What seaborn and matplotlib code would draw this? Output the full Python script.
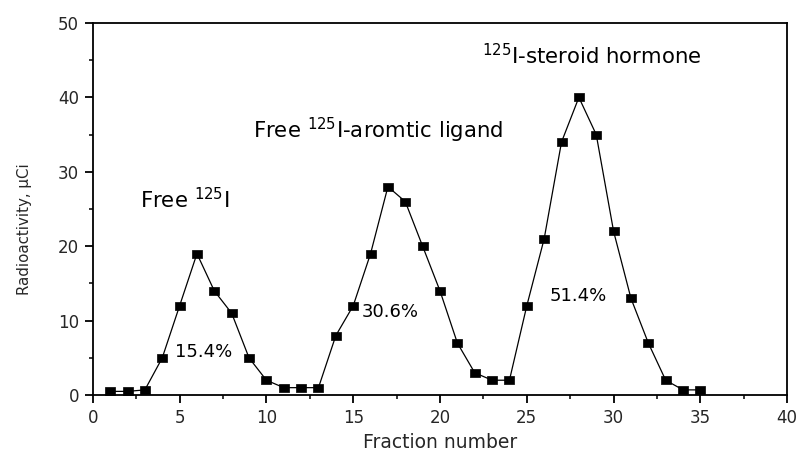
import matplotlib
matplotlib.use("Agg")
import matplotlib.pyplot as plt
import seaborn as sns
import pandas as pd
from matplotlib.ticker import MultipleLocator

fractions = list(range(1, 36))
radioactivity = [0.5, 0.5, 0.7, 5, 12, 19, 14, 11, 5, 2,
                 1, 1, 1, 8, 12, 19, 28, 26, 20, 14,
                 7, 3, 2, 2, 12, 21, 34, 40, 35, 22,
                 13, 7, 2, 0.7, 0.7]

peak_labels = ["Free $^{125}$I", "Free $^{125}$I-aromtic ligand", "$^{125}$I-steroid hormone"]
peak_label_pos = [(2.71, 25.1, "left"), (9.25, 34.5, "left"), (35.1, 44.5, "right")]
percent_labels = ["15.4%", "30.6%", "51.4%"]
percent_pos = [(4.73, 5.1), (15.5, 10.5), (26.3, 12.7)]

df = pd.DataFrame({"Fraction": fractions, "Radioactivity": radioactivity})

sns.set_theme(style="ticks")
plt.rcParams["font.family"] = ["DejaVu Sans"]
plt.rcParams["mathtext.fontset"] = "dejavusans"

fig = plt.figure(figsize=(8, 4.5), dpi=100)
ax = fig.add_axes([0.116, 0.122, 0.868, 0.827])

wide_square = [(-1.4, -1), (1.4, -1), (1.4, 1), (-1.4, 1), (-1.4, -1)]
sns.lineplot(data=df, x="Fraction", y="Radioactivity", ax=ax, color="black",
             linewidth=0.9, marker=wide_square, markersize=7.8, markeredgecolor="black",
             markerfacecolor="black", markeredgewidth=0.5)

ax.set_xlim(0, 40)
ax.set_ylim(0, 50)
ax.xaxis.set_major_locator(MultipleLocator(5))
ax.xaxis.set_minor_locator(MultipleLocator(2.5))
ax.yaxis.set_major_locator(MultipleLocator(10))
ax.yaxis.set_minor_locator(MultipleLocator(5))
ax.tick_params(which="both", direction="out", color="black", top=False, right=False)
ax.tick_params(which="major", length=6, width=1.3, labelsize=12, pad=4)
ax.tick_params(which="minor", length=3, width=1.1)
for s in ax.spines.values():
    s.set_visible(True)
    s.set_color("black")
    s.set_linewidth(1.3)

ax.set_xlabel("Fraction number", fontsize=13.5, labelpad=4)
ax.set_ylabel("Radioactivity, µCi", fontsize=10.8)
ax.yaxis.set_label_coords(-0.088, 0.446)

for txt, (x, y, ha) in zip(peak_labels, peak_label_pos):
    ax.text(x, y, txt, fontsize=15.3, ha=ha, va="baseline", color="black")
for txt, (x, y) in zip(percent_labels, percent_pos):
    ax.text(x, y, txt, fontsize=13, ha="left", va="baseline", color="black")

fig.savefig("out.png", dpi=100)
